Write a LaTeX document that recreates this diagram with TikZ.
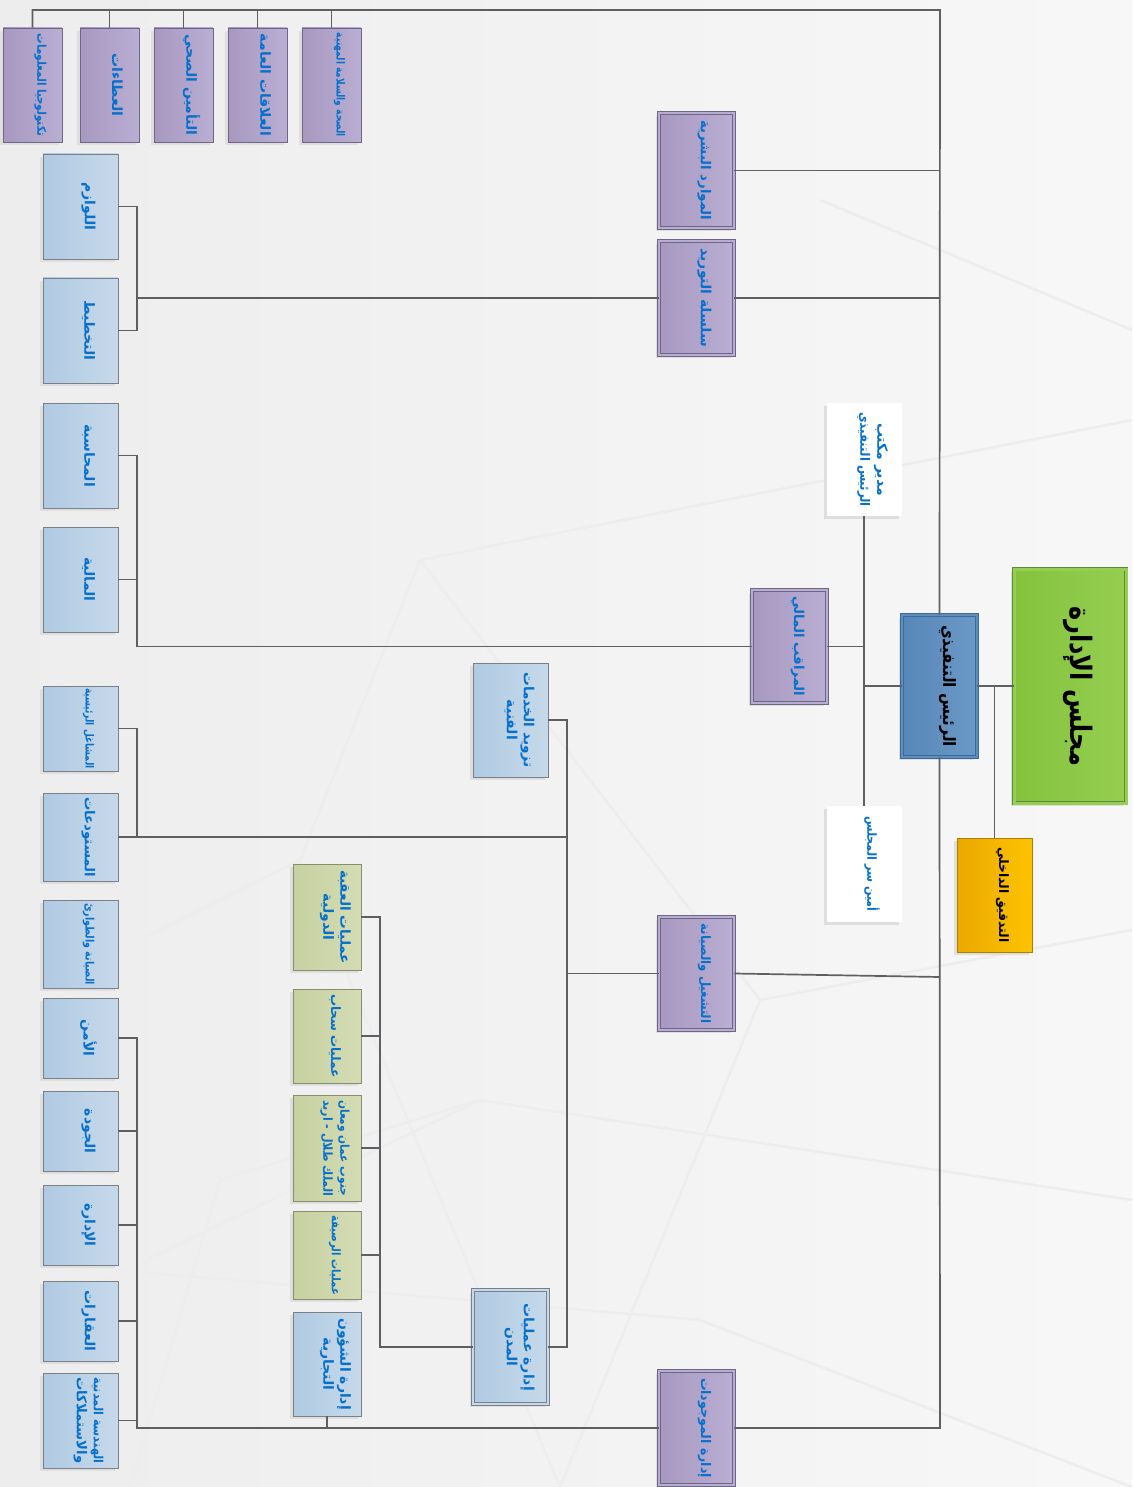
\documentclass[tikz,border=0pt]{standalone}
\usepackage{fontspec}
\usetikzlibrary{shadows}
\TeXXeTstate=1
\newfontfamily\arfont[Script=Arabic]{DejaVu Sans}
\definecolor{pur1}{HTML}{A898C0}
\definecolor{pur2}{HTML}{B9AED3}
\definecolor{purline}{HTML}{6F6585}
\definecolor{blu1}{HTML}{B0CAE2}
\definecolor{blu2}{HTML}{C6D9EA}
\definecolor{bluline}{HTML}{7A808A}
\definecolor{grn1}{HTML}{C6D1A1}
\definecolor{grn2}{HTML}{D4DCB4}
\definecolor{grnline}{HTML}{878D6E}
\definecolor{ceoc}{HTML}{5B8EC1}
\definecolor{ceoline}{HTML}{3F6A96}
\definecolor{brd1}{HTML}{84C33E}
\definecolor{brd2}{HTML}{95CE50}
\definecolor{brdline}{HTML}{5D8A3A}
\definecolor{aud1}{HTML}{EBA800}
\definecolor{aud2}{HTML}{FDC300}
\definecolor{audline}{HTML}{A98000}
\definecolor{txtblue}{HTML}{0670CC}
\definecolor{linegray}{HTML}{5F5F63}
\newsavebox\arbox
\newcommand\AR[2][100pt]{\sbox\arbox{\arfont\bfseries #2}\ifdim\wd\arbox>#1\relax
  \pgfmathsetmacro\arhf{#1/\wd\arbox}\pgfmathsetmacro\arvf{sqrt(\arhf)}\scalebox{\arhf}[\arvf]{\usebox\arbox}\else\usebox\arbox\fi}
\newcommand\RT[2][100pt]{\hspace*{16pt}\rotatebox{-90}{\AR[#1]{#2}}}
\newcommand\RTT[3][100pt]{\hspace*{16pt}\rotatebox{-90}{\begin{tabular}{@{}c@{}}\AR[#1]{#2}\\[1pt]\AR[#1]{#3}\end{tabular}}}
\tikzset{
  box/.style={rectangle, inner sep=0pt, line width=0.8pt, text=txtblue,
    font=\fontsize{14}{16}\selectfont,
    drop shadow={shadow xshift=-3pt, shadow yshift=-3pt, fill=black!13, opacity=1}},
  pbox/.style={box, left color=pur1, right color=pur2, draw=purline},
  pboxd/.style={pbox, double=pur2!90!pur1, double distance=2.6pt},
  bbox/.style={box, left color=blu1, right color=blu2, draw=bluline},
  bboxd/.style={bbox, double=blu2, double distance=2.6pt},
  gbox/.style={box, left color=grn1, right color=grn2, draw=grnline},
  wbox/.style={box, fill=white, draw=none},
  conn/.style={draw=linegray, line width=1.7pt},
  bgline/.style={draw=black!7, line width=2.5pt}
}
\begin{document}
\begin{tikzpicture}[x=1pt,y=-1pt]
\useasboundingbox (0,0) rectangle (1132,1487);
\shade[left color=black!7, right color=black!3] (0,0) rectangle (1132,1487);
% faint background lines
\draw[bgline] (0,1010) -- (300,860) -- (560,1487);
\draw[bgline] (300,860) -- (420,560) -- (760,1000);
\draw[bgline] (0,1330) -- (480,1100) -- (1132,1200);
\draw[bgline] (130,1487) -- (220,1180) -- (480,1100);
\draw[bgline] (420,560) -- (1132,420);
\draw[bgline] (760,1000) -- (1132,930);
\draw[bgline] (560,1487) -- (760,1000);
\draw[bgline] (0,1260) -- (700,1320) -- (1132,1487);
\draw[bgline] (820,200) -- (1132,330);

% top row (CEO direct)
\node[pbox, minimum width=59pt, minimum height=114pt] (t1) at (32.5,85) {\RT[102pt]{\beginR تكنولوجيا المعلومات\endR}};
\node[pbox, minimum width=59pt, minimum height=114pt] (t2) at (109.5,85) {\RT[102pt]{\beginR العطاءات\endR}};
\node[pbox, minimum width=59pt, minimum height=114pt] (t3) at (183.5,85) {\RT[102pt]{\beginR التأمين الصحي\endR}};
\node[pbox, minimum width=59pt, minimum height=114pt] (t4) at (257.5,85) {\RT[102pt]{\beginR العلاقات العامة\endR}};
\node[pbox, minimum width=59pt, minimum height=114pt] (t5) at (331.5,85) {\RT[104pt]{\beginR الصحة والسلامة المهنية\endR}};

% second level purple
\node[pboxd, minimum width=75pt, minimum height=115pt] (hr) at (696.5,170.5) {\RT{\beginR الموارد البشرية\endR}};
\node[pboxd, minimum width=75pt, minimum height=114pt] (sc) at (696.5,298) {\RT{\beginR سلسلة التوريد\endR}};
\node[pboxd, minimum width=75pt, minimum height=113pt] (fc) at (789.5,646.5) {\RT{\beginR المراقب المالي\endR}};
\node[pboxd, minimum width=75pt, minimum height=113pt] (om) at (696.5,973.5) {\RT{\beginR التشغيل والصيانة\endR}};
\node[pboxd, minimum width=75pt, minimum height=114pt] (am) at (696.5,1428) {\RT{\beginR إدارة الموجودات\endR}};

% top level
\node[box, left color=ceoc!95!black, right color=ceoc!90!white, draw=ceoline, double=ceoc, double distance=2.6pt,
  text=black, font=\fontsize{19}{22}\selectfont, minimum width=75pt, minimum height=142pt] (ceo) at (939.5,686) {\RT[122pt]{\beginR الرئيس التنفيذي\endR}};
\node[box, left color=brd1, right color=brd2, draw=brdline, double=brd2, double distance=3pt,
  text=black, font=\fontsize{36}{40}\selectfont, minimum width=112pt, minimum height=234pt] (board) at (1070,686) {\RT[160pt]{\beginR مجلس الإدارة\endR}};
\node[box, left color=aud1, right color=aud2, draw=audline, text=black,
  font=\fontsize{14}{16}\selectfont, minimum width=75pt, minimum height=114pt] (audit) at (994.5,895) {\RT[95pt]{\beginR التدقيق الداخلي\endR}};
\node[wbox, minimum width=75pt, minimum height=113pt] (ofd) at (864,459.5) {\RTT[95pt]{\beginR مدير مكتب\endR}{\beginR الرئيس التنفيذي\endR}};
\node[wbox, minimum width=75pt, minimum height=116pt] (sec) at (864,864) {\RT[95pt]{\beginR أمين سر المجلس\endR}};

% left column
\node[bbox, minimum width=75pt, minimum height=105pt] (lw) at (80.5,206.5) {\RT[90pt]{\beginR اللوازم\endR}};
\node[bbox, minimum width=75pt, minimum height=105pt] (pl) at (80.5,330.5) {\RT[90pt]{\beginR التخطيط\endR}};
\node[bbox, minimum width=75pt, minimum height=105pt] (acc) at (80.5,455.5) {\RT[90pt]{\beginR المحاسبة\endR}};
\node[bbox, minimum width=75pt, minimum height=105pt] (fin) at (80.5,579.5) {\RT[90pt]{\beginR المالية\endR}};
\node[bbox, minimum width=75pt, minimum height=85pt] (ws) at (80.5,728.5) {\RT[80pt]{\beginR المشاغل الرئيسية\endR}};
\node[bbox, minimum width=75pt, minimum height=88pt] (st) at (80.5,837) {\RT[80pt]{\beginR المستودعات\endR}};
\node[bbox, minimum width=75pt, minimum height=88pt] (mt) at (80.5,944) {\RT[82pt]{\beginR الصيانة والطوارئ\endR}};
\node[bbox, minimum width=75pt, minimum height=80pt] (a1) at (80.5,1038) {\RT[70pt]{\beginR الأمن\endR}};
\node[bbox, minimum width=75pt, minimum height=80pt] (a2) at (80.5,1131) {\RT[70pt]{\beginR الجودة\endR}};
\node[bbox, minimum width=75pt, minimum height=80pt] (a3) at (80.5,1225) {\RT[70pt]{\beginR الإدارة\endR}};
\node[bbox, minimum width=75pt, minimum height=80pt] (a4) at (80.5,1321) {\RT[70pt]{\beginR العقارات\endR}};
\node[bbox, minimum width=75pt, minimum height=95pt] (a5) at (80.5,1420.5) {\RTT[86pt]{\beginR الهندسة المدنية\endR}{\beginR والاستملاكات\endR}};

% operations
\node[bbox, minimum width=75pt, minimum height=114pt] (ts) at (510.5,720) {\RTT[95pt]{\beginR تزويد الخدمات\endR}{\beginR الفنية\endR}};
\node[bboxd, minimum width=75pt, minimum height=114pt] (opm) at (510.5,1347) {\RTT[95pt]{\beginR إدارة عمليات\endR}{\beginR المدن\endR}};
\node[gbox, minimum width=68pt, minimum height=106pt] (g1) at (327,917) {\RTT[94pt]{\beginR عمليات العقبة\endR}{\beginR الدولية\endR}};
\node[gbox, minimum width=68pt, minimum height=94pt] (g2) at (327,1036) {\RT[84pt]{\beginR عمليات سحاب\endR}};
\node[gbox, minimum width=68pt, minimum height=106pt] (g3) at (327,1148) {\RTT[96pt]{\beginR جنوب عمان ومعان\endR}{\beginR الملك طلال - اربد\endR}};
\node[gbox, minimum width=68pt, minimum height=88pt] (g4) at (327,1255) {\RT[80pt]{\beginR عمليات الرصيفة\endR}};
\node[bbox, minimum width=68pt, minimum height=104pt] (com) at (327,1364) {\RTT[94pt]{\beginR إدارة الشؤون\endR}{\beginR التجارية\endR}};

% connectors
\coordinate (topbus) at (940,10);
\coordinate (botbus) at (940,1428);
\coordinate (bx) at (137,0);
\coordinate (ox) at (567,0);
\coordinate (gx) at (380,0);
\draw[conn] (ceo.north) -- (topbus) -- (t1.north |- topbus) -- (t1.north);
\foreach \n in {t2,t3,t4,t5} \draw[conn] (\n.north |- topbus) -- (\n.north);
\draw[conn] (hr.east) -- (hr.east -| topbus);
\draw[conn] (sc.east) -- (sc.east -| topbus);
\draw[conn] (ceo.south) -- (botbus) -- (am.east);
\draw[conn] (om.east) -- (botbus |- 0,977);
\draw[conn] (ceo.east) -- (board.west);
\draw[conn] (audit.north) -- (audit.north |- ceo.east);
\draw[conn] (ofd.south) -- (sec.north);
\draw[conn] (ceo.west) -- (ceo.west -| ofd.south);
\draw[conn] (fc.east) -- (fc.east -| ofd.south);
% supply chain
\draw[conn] (lw.east) -- (lw.east -| bx) -- (pl.east -| bx) -- (pl.east);
\draw[conn] (sc.west) -- (sc.west -| bx);
% finance
\draw[conn] (acc.east) -- (acc.east -| bx) -- (fc.west -| bx) -- (fc.west);
\draw[conn] (fin.east) -- (fin.east -| bx);
% operations
\draw[conn] (ts.east) -- (ts.east -| ox) -- (opm.east -| ox) -- (opm.east);
\draw[conn] (om.west) -- (om.west -| ox);
\draw[conn] (ws.east) -- (ws.east -| bx) -- (st.east -| bx);
\draw[conn] (st.east) -- (st.east -| ox);
\draw[conn] (g1.east) -- (g1.east -| gx) -- (opm.west -| gx) -- (opm.west);
\foreach \n in {g2,g3,g4} \draw[conn] (\n.east) -- (\n.east -| gx);
% assets
\draw[conn] (a1.east) -- (a1.east -| bx) -- (am.west -| bx) -- (am.west);
\foreach \n in {a2,a3,a4,a5} \draw[conn] (\n.east) -- (\n.east -| bx);
\draw[conn] (com.south) -- (com.south |- am.west);
\end{tikzpicture}
\end{document}
